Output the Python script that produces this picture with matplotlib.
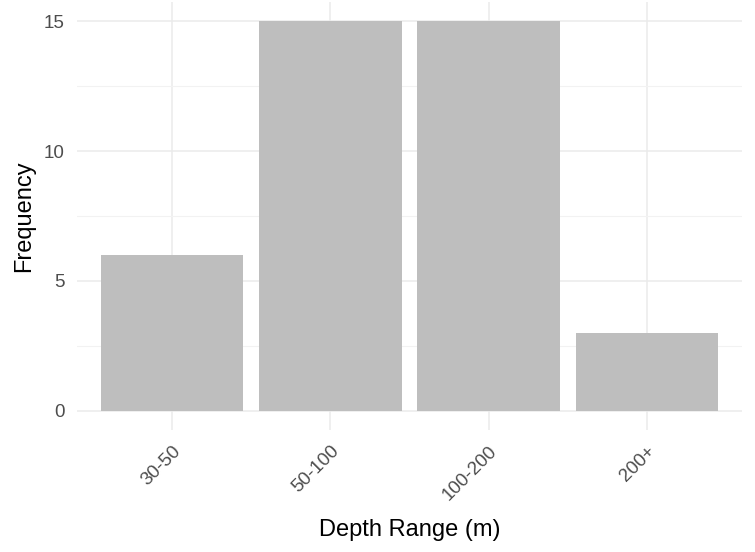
import matplotlib
matplotlib.use("Agg")
import matplotlib.pyplot as plt
import numpy as np

categories = ["30-50", "50-100", "100-200", "200+"]
frequency = [6, 15, 15, 3]

plt.rcParams['font.family'] = ['Liberation Sans', 'DejaVu Sans']

fig = plt.figure(figsize=(7.55, 5.52), dpi=100)
ax = fig.add_axes([77/755, 1 - 430/552, (742-77)/755, (430-2)/552])

x = np.arange(1, len(categories) + 1)
ax.bar(x, frequency, width=0.9, color="#BEBEBE", zorder=2)

ax.set_xlim(0.4, 4.6)
ax.set_ylim(-0.75, 15.75)
ax.set_yticks([0, 5, 10, 15])
ax.set_yticks([2.5, 7.5, 12.5], minor=True)
ax.set_xticks(x)
ax.set_xticklabels(categories, rotation=45, ha="right", va="top", rotation_mode="anchor")

ax.grid(which="major", color="#EBEBEB", linewidth=1.1, zorder=0)
ax.grid(which="minor", axis="y", color="#F2F2F2", linewidth=0.8, zorder=0)
for s in ax.spines.values():
    s.set_visible(False)
ax.tick_params(which="both", length=0)
ax.tick_params(axis="x", labelsize=13.5, labelcolor="#4D4D4D", pad=9)
ax.tick_params(axis="y", labelsize=13.5, labelcolor="#4D4D4D", pad=9)

ax.set_xlabel("Depth Range (m)", fontsize=17, color="black", labelpad=11)
ax.set_ylabel("Frequency", fontsize=17, color="black", labelpad=6)

fig.savefig("out.png", dpi=100, facecolor="white")
